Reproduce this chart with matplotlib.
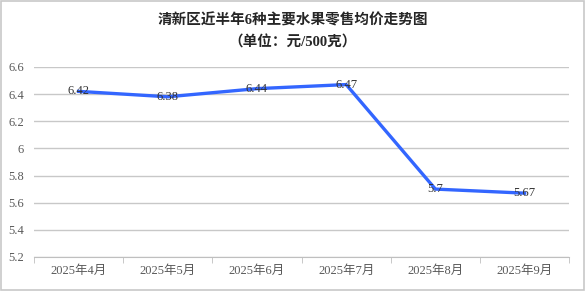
import matplotlib.pyplot as plt
from matplotlib.patches import Rectangle

months = ['2025年4月', '2025年5月', '2025年6月', '2025年7月', '2025年8月', '2025年9月']
prices = [6.42, 6.38, 6.44, 6.47, 5.70, 5.67]
price_labels = ['6.42', '6.38', '6.44', '6.47', '5.7', '5.67']
yticks = [5.2, 5.4, 5.6, 5.8, 6.0, 6.2, 6.4, 6.6]
ytick_labels = ['5.2', '5.4', '5.6', '5.8', '6', '6.2', '6.4', '6.6']

fonts = ['Liberation Serif', 'Noto Sans CJK SC']
plt.rcParams['font.family'] = fonts

fig = plt.figure(figsize=(5.85, 2.91), dpi=100)
ax = fig.add_axes([0.058, 0.117, 0.915, 0.653])

x = list(range(len(months)))
ax.plot(x, prices, color='#3366ff', lw=2.4, solid_joinstyle='round', zorder=3)
for xi, v, s in zip(x, prices, price_labels):
    ax.text(xi, v, s, ha='center', va='center', fontsize=9, color='#333333', zorder=4)

ax.set_xlim(-0.5, len(months) - 0.5)
ax.set_ylim(5.2, 6.6)
ax.set_yticks(yticks)
ax.set_yticklabels(ytick_labels)
ax.set_xticks(x)
ax.set_xticklabels(months)
ax.set_xticks([i - 0.5 for i in range(len(months) + 1)], minor=True)
ax.tick_params(axis='x', which='major', length=0, pad=6, labelsize=9, labelcolor='#595959')
ax.tick_params(axis='x', which='minor', length=4, color='#bfbfbf', direction='out')
ax.tick_params(axis='y', length=0, pad=7, labelsize=9, labelcolor='#595959')
ax.grid(axis='y', color='#c8c8c8', lw=1)
ax.set_axisbelow(True)
for side in ['top', 'right', 'left']:
    ax.spines[side].set_visible(False)
ax.spines['bottom'].set_color('#bfbfbf')

fig.text(0.5, 0.93, '清新区近半年6种主要水果零售均价走势图', ha='center', va='center',
         fontsize=10.5, fontweight='bold', color='#262626')
fig.text(0.5, 0.855, '（单位：元/500克）', ha='center', va='center',
         fontsize=10.5, fontweight='bold', color='#262626')

fig.patches.append(Rectangle((0.001, 0.002), 0.997, 0.995, transform=fig.transFigure,
                             fill=False, edgecolor='#c8c8c8', lw=1.2))

fig.savefig('out.png', dpi=100)
